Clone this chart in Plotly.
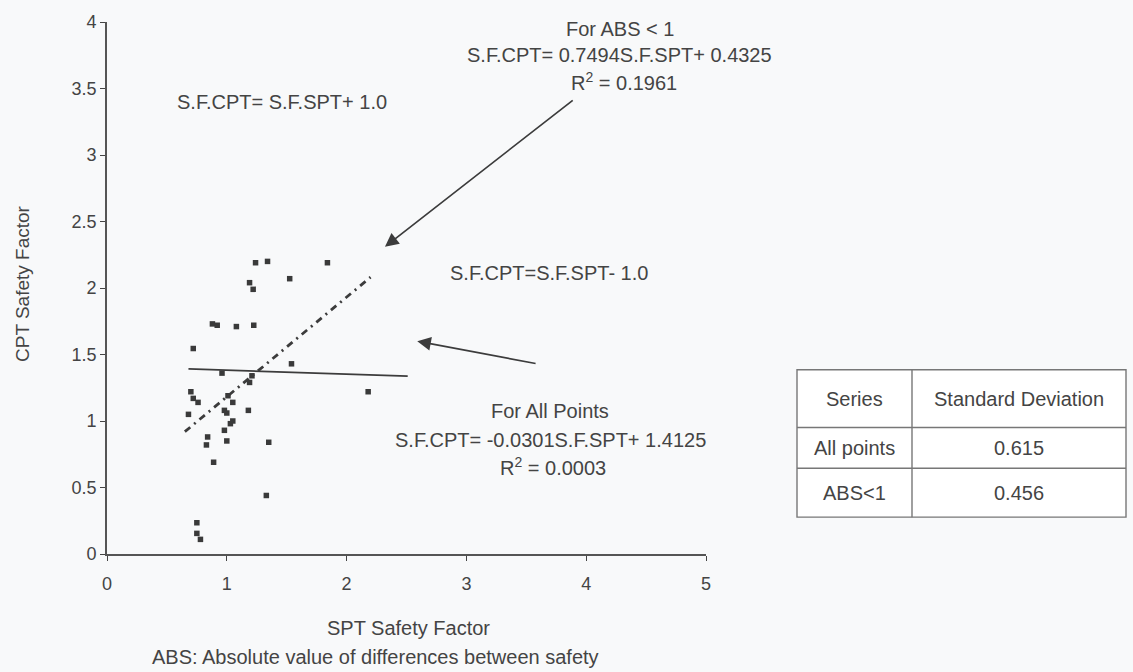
import numpy as np
import plotly.graph_objects as go

# ---- data ----
spt = [0.72, 0.88, 0.92, 1.08, 1.225, 1.24, 1.34, 1.19, 1.22, 1.525, 1.84, 1.54, 0.96, 1.21,
       2.18, 0.70, 0.72, 0.76, 0.68, 1.01, 1.05, 0.98, 1.00, 1.05, 1.03, 0.98, 1.00, 0.84,
       0.83, 0.89, 1.19, 1.18, 1.35, 1.33, 0.75, 0.75, 0.78]
cpt = [1.545, 1.73, 1.72, 1.71, 1.72, 2.19, 2.20, 2.04, 1.99, 2.07, 2.19, 1.43, 1.36, 1.34,
       1.22, 1.22, 1.17, 1.14, 1.05, 1.19, 1.14, 1.08, 1.06, 1.00, 0.98, 0.93, 0.85, 0.88,
       0.82, 0.69, 1.29, 1.08, 0.84, 0.44, 0.235, 0.155, 0.11]

fit_all_coef = [-0.0301, 1.4125]
fit_all_x = [0.68, 2.51]
fit_abs_coef = [0.7494, 0.4325]
fit_abs_x = [0.65, 2.2]

x_ticks = [0, 1, 2, 3, 4, 5]
y_ticks = [0, 0.5, 1, 1.5, 2, 2.5, 3, 3.5, 4]
y_tick_text = ["0", "0.5", "1", "1.5", "2", "2.5", "3", "3.5", "4"]

table_header = ["Series", "Standard Deviation"]
table_series = ["All points", "ABS<1"]
table_sd = ["0.615", "0.456"]

FONT = "Arial, Liberation Sans, sans-serif"
INK = "#444444"
W, H = 1133, 672
L, R, T, B = 107, 427, 20, 118
PW = W - L - R
PH = H - T - B


def px(x):
    return (x - L) / PW


def py(y):
    return (H - B - y) / PH


fig = go.Figure()

# regression lines
xa = np.linspace(fit_all_x[0], fit_all_x[1], 2)
fig.add_trace(go.Scatter(x=xa, y=np.polyval(fit_all_coef, xa), mode="lines",
                         line=dict(color="#3c3c3c", width=1.7), showlegend=False))
xb = np.linspace(fit_abs_x[0], fit_abs_x[1], 2)
fig.add_trace(go.Scatter(x=xb, y=np.polyval(fit_abs_coef, xb), mode="lines",
                         line=dict(color="#3c3c3c", width=2.8, dash="7px,5px,2px,5px"),
                         showlegend=False))

# points
fig.add_trace(go.Scatter(x=spt, y=cpt, mode="markers",
                         marker=dict(symbol="square", size=5.5, color="#3a3a3a"),
                         showlegend=False))

anns = []
shapes = []


def text(xp, yp, s, size=20):
    anns.append(dict(x=px(xp), y=py(yp), xref="paper", yref="paper", text=s,
                     showarrow=False, font=dict(family=FONT, size=size, color=INK),
                     xanchor="center", yanchor="middle"))


# table built from the lists
col_edges = [797, 912, 1126]
row_edges = [369, 427, 468, 517]
rows = [table_header] + [[s, v] for s, v in zip(table_series, table_sd)]
shapes.append(dict(type="rect", xref="paper", yref="paper", x0=px(col_edges[0]), x1=px(col_edges[-1]),
                   y0=py(row_edges[-1]), y1=py(row_edges[0]), line=dict(color="#777777", width=1.4),
                   fillcolor="white", layer="below"))
for cx in col_edges[1:-1]:
    shapes.append(dict(type="line", xref="paper", yref="paper", x0=px(cx), x1=px(cx),
                       y0=py(row_edges[-1]), y1=py(row_edges[0]), line=dict(color="#777777", width=1.4)))
for ry in row_edges[1:-1]:
    shapes.append(dict(type="line", xref="paper", yref="paper", x0=px(col_edges[0]), x1=px(col_edges[-1]),
                       y0=py(ry), y1=py(ry), line=dict(color="#777777", width=1.4)))
for ri, row in enumerate(rows):
    for ci, val in enumerate(row):
        text((col_edges[ci] + col_edges[ci + 1]) / 2, (row_edges[ri] + row_edges[ri + 1]) / 2, val, size=20)

text(282, 100, "S.F.CPT= S.F.SPT+ 1.0")
text(620, 27, "For ABS < 1")
text(619, 53, "S.F.CPT= 0.7494S.F.SPT+ 0.4325")
text(624, 80, "R<sup>2</sup> = 0.1961")
text(549, 272, "S.F.CPT=S.F.SPT- 1.0")
text(550, 410, "For All Points")
text(550, 440, "S.F.CPT= -0.0301S.F.SPT+ 1.4125")
text(553, 466, "R<sup>2</sup> = 0.0003")
text(408, 628, "SPT Safety Factor")
text(375, 657, "ABS: Absolute value of differences between safety")
anns.append(dict(x=px(22), y=py(283), xref="paper", yref="paper", text="CPT Safety Factor",
                 textangle=-90, showarrow=False, font=dict(family=FONT, size=19, color=INK),
                 xanchor="center", yanchor="middle"))

# arrows (data coordinates)
for tail, head in [((3.90, 3.42), (2.32, 2.31)), ((3.59, 1.43), (2.59, 1.60))]:
    anns.append(dict(x=head[0], y=head[1], ax=tail[0], ay=tail[1], xref="x", yref="y",
                     axref="x", ayref="y", text="", showarrow=True, arrowhead=2,
                     arrowsize=1.6, arrowwidth=1.7, arrowcolor="#3c3c3c"))

fig.update_layout(
    width=W, height=H,
    margin=dict(l=L, r=R, t=T, b=B),
    paper_bgcolor="#f8f9fa", plot_bgcolor="rgba(0,0,0,0)",
    font=dict(family=FONT, size=18, color=INK),
    annotations=anns, shapes=shapes,
    xaxis=dict(range=[0, 5], tickvals=x_ticks, ticks="outside",
               ticklen=5, tickcolor=INK, showline=True, linecolor="#555555", linewidth=1.6,
               showgrid=False, zeroline=False, ticklabelstandoff=8,
               tickfont=dict(size=18, color=INK)),
    yaxis=dict(range=[0, 4], tickvals=y_ticks, ticktext=y_tick_text,
               ticks="outside", ticklen=5, tickcolor=INK, showline=True,
               linecolor="#555555", linewidth=1.6, showgrid=False, zeroline=False,
               tickfont=dict(size=18, color=INK)),
)

fig.write_html("out.html", config={"displayModeBar": False},
               post_script="document.body.style.margin='0px';")
